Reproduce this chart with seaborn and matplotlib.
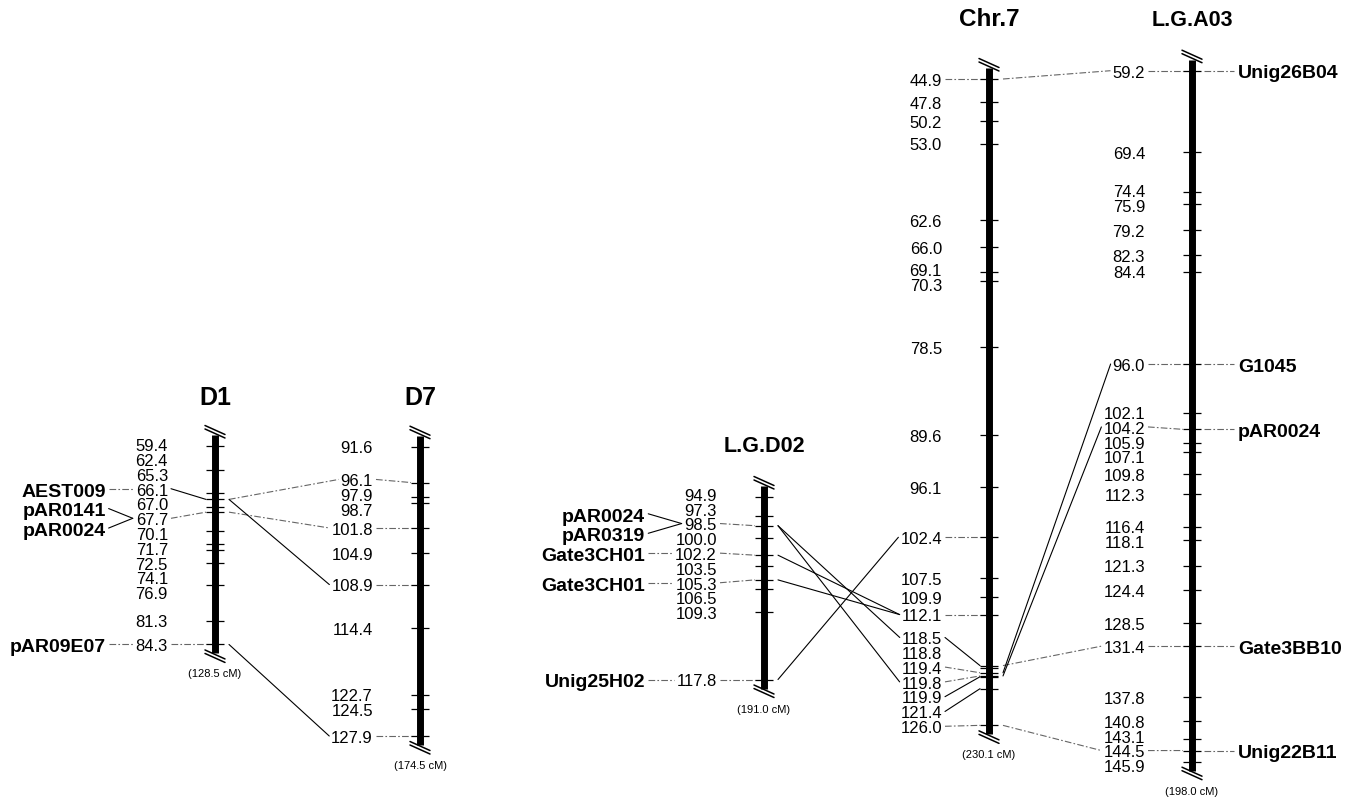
import numpy as np
import matplotlib
matplotlib.use("Agg")
import matplotlib.pyplot as plt
import seaborn as sns

# ---------------- data ----------------
CHROMS = ["D1", "D7", "L.G.D02", "Chr.7", "L.G.A03"]

D1_LOCI = [59.4, 62.4, 65.3, 66.1, 67.0, 67.7, 70.1, 71.7, 72.5, 74.1, 76.9, 81.3, 84.3]
D7_LOCI = [91.6, 96.1, 97.9, 98.7, 101.8, 104.9, 108.9, 114.4, 122.7, 124.5, 127.9]
D02_LOCI = [94.9, 97.3, 98.5, 100.0, 102.2, 103.5, 105.3, 106.5, 109.3, 117.8]
CHR7_LOCI = [44.9, 47.8, 50.2, 53.0, 62.6, 66.0, 69.1, 70.3, 78.5, 89.6, 96.1, 102.4,
             107.5, 109.9, 112.1, 118.5, 118.8, 119.4, 119.8, 119.9, 121.4, 126.0]
A03_LOCI = [59.2, 69.4, 74.4, 75.9, 79.2, 82.3, 84.4, 96.0, 102.1, 104.2, 105.9, 107.1,
            109.8, 112.3, 116.4, 118.1, 121.3, 124.4, 128.5, 131.4, 137.8, 140.8, 143.1,
            144.5, 145.9]

TOTAL_LENGTH = [128.5, 174.5, 191.0, 230.1, 198.0]

D1_NAMES = ["AEST009", "pAR0141", "pAR0024", "pAR09E07"]
D1_NAME_POS = [66.1, 67.7, 67.7, 84.3]
D02_NAMES = ["pAR0024", "pAR0319", "Gate3CH01", "Gate3CH01", "Unig25H02"]
D02_NAME_POS = [98.5, 98.5, 102.2, 105.3, 117.8]
A03_NAMES = ["Unig26B04", "G1045", "pAR0024", "Gate3BB10", "Unig22B11"]
A03_NAME_POS = [59.2, 96.0, 104.2, 131.4, 144.5]

# loci whose position label is tied to the bar by a leader line
D1_FLAGGED = [66.1, 67.7, 84.3]
D7_FLAGGED = [96.1, 101.8, 108.9, 127.9]
D02_FLAGGED = [98.5, 102.2, 105.3, 117.8]
CHR7_FLAGGED = [44.9, 102.4, 112.1, 118.5, 119.4, 119.8, 119.9, 121.4, 126.0]
A03_FLAGGED = [59.2, 96.0, 104.2, 131.4, 144.5]

# links between neighbouring maps: (source cM, target cM)
LINK_D1_D7_SRC = [66.1, 67.7, 66.1, 84.3]
LINK_D1_D7_TGT = [96.1, 101.8, 108.9, 127.9]
LINK_D02_CHR7_SRC = [98.5, 98.5, 102.2, 105.3, 117.8]
LINK_D02_CHR7_TGT = [118.5, 119.8, 112.1, 112.1, 102.4]
LINK_CHR7_A03_SRC = [44.9, 118.5, 119.4, 119.8, 126.0]
LINK_CHR7_A03_TGT = [59.2, 131.4, 96.0, 104.2, 144.5]

# ---------------- layout / style ----------------
sns.set_theme(style="white")
plt.rcParams["font.family"] = ["Liberation Sans", "DejaVu Sans"]
plt.rcParams["text.color"] = "black"

W, H = 1351, 803
fig = plt.figure(figsize=(W / 100, H / 100), dpi=100)
ax = fig.add_axes([0, 0, 1, 1])
ax.set_xlim(0, W)
ax.set_ylim(H, 0)
ax.axis("off")

SCALE = 7.97          # px per cM
NUM_GAP = 14.8        # min spacing of position labels
NAME_GAP = 19.5       # min spacing of marker names
NUM_FS, NAME_FS, LEN_FS = 12, 14, 8

loci = {"D1": D1_LOCI, "D7": D7_LOCI, "L.G.D02": D02_LOCI, "Chr.7": CHR7_LOCI, "L.G.A03": A03_LOCI}
flagged = {"D1": D1_FLAGGED, "D7": D7_FLAGGED, "L.G.D02": D02_FLAGGED,
           "Chr.7": CHR7_FLAGGED, "L.G.A03": A03_FLAGGED}
layout = {
    "D1": dict(x=215, y0=447.0, title_y=398, title_fs=18),
    "D7": dict(x=420, y0=447.7, title_y=398, title_fs=18),
    "L.G.D02": dict(x=764, y0=498.0, title_y=447, title_fs=15.5),
    "Chr.7": dict(x=989, y0=80.0, title_y=20, title_fs=17.5),
    "L.G.A03": dict(x=1192, y0=71.7, title_y=20, title_fs=15.5),
}


def ypos(ch, cm):
    return layout[ch]["y0"] + (np.asarray(cm, dtype=float) - loci[ch][0]) * SCALE


def spread(targets, gap):
    targets = np.asarray(targets, dtype=float)
    order = np.argsort(targets, kind="stable")
    groups = [[v] for v in targets[order]]

    def top(g):
        return np.mean(g) - (len(g) - 1) * gap / 2

    changed = True
    while changed:
        changed = False
        i = 0
        while i < len(groups) - 1:
            a, b = groups[i], groups[i + 1]
            if top(b) - (top(a) + (len(a) - 1) * gap) < gap - 1e-9:
                groups[i] = a + b
                del groups[i + 1]
                changed = True
            else:
                i += 1
    pos = []
    for g in groups:
        t = top(g)
        pos += [t + k * gap for k in range(len(g))]
    out = np.empty(len(targets))
    out[order] = pos
    return out


def seg(x0, y0, x1, y1):
    slope = abs((y1 - y0) / (x1 - x0)) if x1 != x0 else 9
    if slope < 0.27:
        ax.plot([x0, x1], [y0, y1], color="0.4", lw=0.8, ls=(0, (6, 2, 1.5, 2)))
    else:
        ax.plot([x0, x1], [y0, y1], color="black", lw=0.8)


tick_y, label_y, label_txt = {}, {}, {}
for ch, L in zip(CHROMS, TOTAL_LENGTH):
    x = layout[ch]["x"]
    ty = ypos(ch, loci[ch])
    tick_y[ch] = dict(zip(loci[ch], ty))
    top, bot = ty[0] - 11, ty[-1] + 9
    # bar
    ax.plot([x, x], [top, bot], color="black", lw=5.0, solid_capstyle="butt", zorder=3)
    # break marks
    for dy in (-5.0, -1.5):
        ax.plot([x - 10, x + 10], [top + dy - 4.5, top + dy + 4.5], color="black", lw=1.1, zorder=4)
    for dy in (1.0, 4.5):
        ax.plot([x - 10, x + 10], [bot + dy - 4.5, bot + dy + 4.5], color="black", lw=1.1, zorder=4)
    # ticks
    ax.hlines(ty, x - 9, x + 9, color="black", lw=0.9, zorder=4)
    # position labels
    ly = spread(ty, NUM_GAP)
    label_y[ch] = dict(zip(loci[ch], ly))
    label_txt[ch] = {}
    for cm, yy in zip(loci[ch], ly):
        label_txt[ch][cm] = ax.text(x - 47, yy + 5.8, f"{cm:.1f}", ha="right", va="baseline",
                                    fontsize=NUM_FS, color="black")
    ax.text(x, layout[ch]["title_y"], ch, ha="center", va="center", fontsize=layout[ch]["title_fs"],
            fontweight="bold", color="black")
    ax.text(x, bot + 20, f"({L:.1f} cM)", ha="center", va="center", fontsize=LEN_FS, color="black")

fig.canvas.draw()
renderer = fig.canvas.get_renderer()
inv = ax.transData.inverted()


def extent(t):
    bb = t.get_window_extent(renderer)
    (x0, _), (x1, _) = inv.transform([[bb.x0, bb.y0], [bb.x1, bb.y1]])
    return min(x0, x1), max(x0, x1)


# leaders from labels to bars
for ch in CHROMS:
    x = layout[ch]["x"]
    for cm in flagged[ch]:
        _, r = extent(label_txt[ch][cm])
        seg(r + 3, label_y[ch][cm], x - 9, tick_y[ch][cm])

# left-side marker names
for ch, names, pos in (("D1", D1_NAMES, D1_NAME_POS), ("L.G.D02", D02_NAMES, D02_NAME_POS)):
    lefts = [extent(label_txt[ch][cm])[0] for cm in loci[ch]]
    nx = min(lefts) - 30
    ny = spread([label_y[ch][cm] for cm in pos], NAME_GAP)
    for nm, cm, yy in zip(names, pos, ny):
        ax.text(nx, yy + 6.8, nm, ha="right", va="baseline", fontsize=NAME_FS, fontweight="bold",
                color="black")
        l, _ = extent(label_txt[ch][cm])
        seg(nx + 3, yy, l - 3, label_y[ch][cm])

# right-side marker names
ch = "L.G.A03"
x = layout[ch]["x"]
ny = spread([tick_y[ch][cm] for cm in A03_NAME_POS], NAME_GAP)
for nm, cm, yy in zip(A03_NAMES, A03_NAME_POS, ny):
    ax.text(x + 46, yy + 6.8, nm, ha="left", va="baseline", fontsize=NAME_FS, fontweight="bold",
            color="black")
    seg(x + 12, tick_y[ch][cm], x + 42, yy)

# links between maps
for src, tgt, S, T in (("D1", "D7", LINK_D1_D7_SRC, LINK_D1_D7_TGT),
                       ("L.G.D02", "Chr.7", LINK_D02_CHR7_SRC, LINK_D02_CHR7_TGT),
                       ("Chr.7", "L.G.A03", LINK_CHR7_A03_SRC, LINK_CHR7_A03_TGT)):
    xs = layout[src]["x"]
    for a, b in zip(S, T):
        l, _ = extent(label_txt[tgt][b])
        seg(xs + 14, tick_y[src][a], l - 2, label_y[tgt][b])

fig.savefig("out.png", dpi=100, facecolor="white")
